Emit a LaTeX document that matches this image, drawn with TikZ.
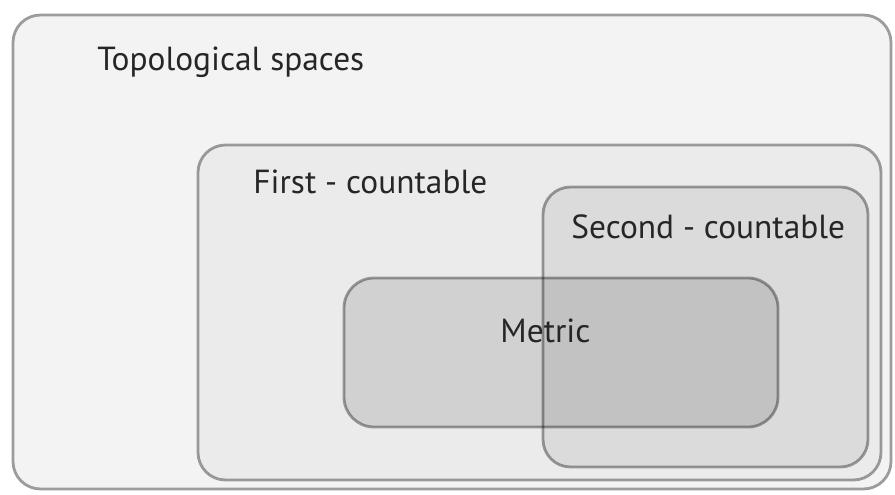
\documentclass[tikz,border=0pt]{standalone}
\usepackage{fontspec}
\setmainfont{PT Sans}
\usepackage{tikz}

\definecolor{edgegray}{HTML}{9C9C9C}
\definecolor{outerfill}{HTML}{F3F3F3}

\begin{document}
\begin{tikzpicture}[x=0.02cm,y=-0.02cm,line width=1.6pt,
	region/.style={draw=black,draw opacity=0.36,fill=black,rounded corners=0.55cm},
	label/.style={anchor=base west,inner sep=0pt,font=\fontsize{19}{21}\selectfont,text=black!85}]
		\useasboundingbox (0,0) rectangle (895,494);
		% nested classes of spaces
		\filldraw [draw=edgegray,fill=outerfill,rounded corners=0.55cm] (13,15) rectangle (891,489);
		\filldraw [region,fill opacity=0.03] (198,145) rectangle (881,480);
		\filldraw [region,fill opacity=0.065] (543,187) rectangle (868,467);
		\filldraw [region,fill opacity=0.11,rounded corners=0.6cm] (344,278) rectangle (778,427);
		
		\node[label] (top) at (96,70) {Topological spaces};
		\node[label] (first) at (252,193) {First - countable};
		\node[label] (second) at (570,238) {Second - countable};
		\node[label] (metric) at (499,342) {Metric};
\end{tikzpicture}
\end{document}
